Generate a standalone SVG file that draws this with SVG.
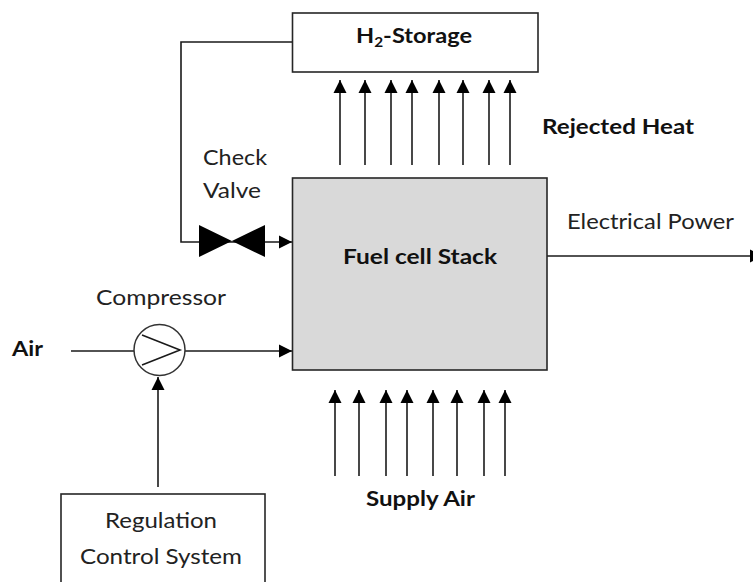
<svg xmlns="http://www.w3.org/2000/svg" width="753" height="582" viewBox="0 0 753 582">
<style>
.box{fill:#fff;stroke:#262626;stroke-width:1.6}
.ln{fill:none;stroke:#1a1a1a;stroke-width:1.6}
.t{font-family:Lato,"Open Sans",sans-serif;font-size:21.5px;fill:#222;text-anchor:start}
.b{font-weight:700;fill:#111}
</style>
<defs>
<marker id="a" markerUnits="userSpaceOnUse" markerWidth="14" markerHeight="14" refX="13" refY="7" orient="auto"><path d="M0 0.5L13 7L0 13.5Z" fill="#000"/></marker>
</defs>
<rect width="753" height="582" fill="#fff"/>
<g id="connectors" class="ln">
<path d="M292 42H181V242H292" marker-end="url(#a)"/>
<path d="M71 351H134"/>
<path d="M185 351H292" marker-end="url(#a)"/>
<path d="M158 487V377" marker-end="url(#a)"/>
<path d="M547 256H763" marker-end="url(#a)"/>
<g id="heat">
<path d="M340 165V80" marker-end="url(#a)"/><path d="M365 165V80" marker-end="url(#a)"/><path d="M391 165V80" marker-end="url(#a)"/><path d="M412 165V80" marker-end="url(#a)"/><path d="M439 165V80" marker-end="url(#a)"/><path d="M463 165V80" marker-end="url(#a)"/><path d="M489 165V80" marker-end="url(#a)"/><path d="M510 165V80" marker-end="url(#a)"/>
</g>
<g id="supply">
<path d="M335 476V390" marker-end="url(#a)"/><path d="M359 476V390" marker-end="url(#a)"/><path d="M386 476V390" marker-end="url(#a)"/><path d="M407 476V390" marker-end="url(#a)"/><path d="M433 476V390" marker-end="url(#a)"/><path d="M457 476V390" marker-end="url(#a)"/><path d="M484 476V390" marker-end="url(#a)"/><path d="M505 476V390" marker-end="url(#a)"/>
</g>
</g>
<g id="storage"><rect class="box" x="292.5" y="13" width="245.5" height="59"/><text class="t b" x="356" y="43" textLength="116" lengthAdjust="spacingAndGlyphs">H<tspan font-size="14" dy="4">2</tspan><tspan dy="-4">-Storage</tspan></text></g>
<g id="stack"><rect class="box" x="292.5" y="178" width="254.5" height="192" style="fill:#d9d9d9"/><text class="t b" x="343" y="264" textLength="154" lengthAdjust="spacingAndGlyphs">Fuel cell Stack</text></g>
<g id="valve"><path d="M199 225L265 257V225L199 257Z" fill="#000"/><text class="t" x="203" y="165" textLength="64" lengthAdjust="spacingAndGlyphs">Check</text><text class="t" x="203" y="198" textLength="58" lengthAdjust="spacingAndGlyphs">Valve</text></g>
<g id="compressor"><circle cx="159.5" cy="350" r="25.5" fill="#fff" stroke="#333" stroke-width="1.5"/><path class="ln" d="M142 335L180 350L142 365"/><text class="t" x="96" y="305" textLength="130" lengthAdjust="spacingAndGlyphs">Compressor</text></g>
<g id="regulation"><rect class="box" x="61" y="494" width="204" height="100"/><text class="t" x="105" y="528" textLength="112" lengthAdjust="spacingAndGlyphs">Regulation</text><text class="t" x="80" y="564" textLength="162" lengthAdjust="spacingAndGlyphs">Control System</text></g>
<g id="labels">
<text class="t b" x="12" y="356" textLength="31" lengthAdjust="spacingAndGlyphs">Air</text>
<text class="t b" x="542" y="134" textLength="152" lengthAdjust="spacingAndGlyphs">Rejected Heat</text>
<text class="t" x="567" y="229" textLength="167" lengthAdjust="spacingAndGlyphs">Electrical Power</text>
<text class="t b" x="366" y="506" textLength="109" lengthAdjust="spacingAndGlyphs">Supply Air</text>
</g>
</svg>
